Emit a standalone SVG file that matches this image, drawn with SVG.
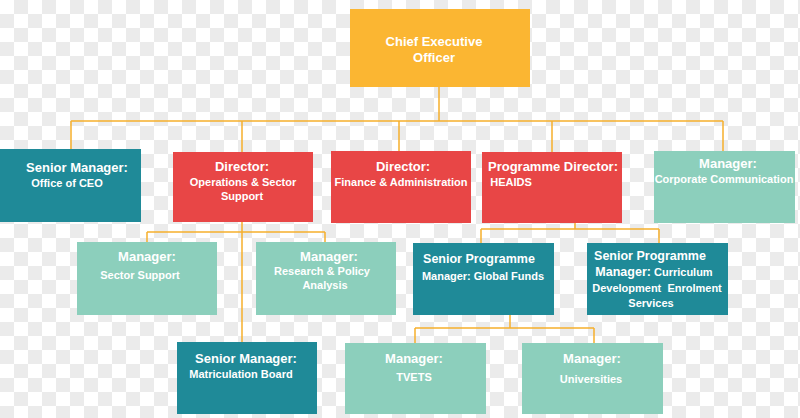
<svg xmlns="http://www.w3.org/2000/svg" width="800" height="418" viewBox="0 0 800 418">
<defs>
<pattern id="checker" x="0" y="0" width="28" height="28" patternUnits="userSpaceOnUse">
<rect x="0" y="0" width="28" height="28" fill="#ffffff"/>
<rect x="14" y="0" width="14" height="14" fill="#ebebeb"/>
<rect x="0" y="14" width="14" height="14" fill="#ebebeb"/>
</pattern>
<style>
.t{font-family:"Liberation Sans",Arial,sans-serif;font-weight:bold;fill:#ffffff;text-anchor:middle}
.h{font-size:13px}
.s{font-size:11px}
.orange{fill:#fbb632}
.red{fill:#e84646}
.teal{fill:#1f8a98}
.mint{fill:#8ccfbc}
.conn{stroke:#f6b02d;stroke-width:1.5;fill:none}
</style>
</defs>
<rect x="0" y="0" width="800" height="418" fill="url(#checker)"/>
<g id="connectors" class="conn">
<path d="M439 87 V121 M71 121 H723 M71 121 V149 M242 121 V152 M399 121 V151 M552 121 V152 M723 121 V151"/>
<path d="M242 222 V342 M147 232 H325 M147 232 V242 M325 232 V242"/>
<path d="M575 223 V229 M481 229 H659 M481 229 V243 M659 229 V243"/>
<path d="M510 315 V328 M415 328 H594 M415 328 V343 M594 328 V343"/>
</g>
<g id="ceo">
<rect class="orange" x="350" y="9" width="180" height="78"/>
<text class="t h" x="434" y="46">Chief Executive</text>
<text class="t h" x="434" y="62">Officer</text>
</g>
<g id="office-ceo">
<rect class="teal" x="0" y="149" width="141" height="73"/>
<text class="t h" x="77" y="172">Senior Manager:</text>
<text class="t s" x="67" y="187">Office of CEO</text>
</g>
<g id="director-ops">
<rect class="red" x="173" y="152" width="140" height="70"/>
<text class="t h" x="242" y="171">Director:</text>
<text class="t s" x="243" y="186">Operations &amp; Sector</text>
<text class="t s" x="242" y="200">Support</text>
</g>
<g id="director-finance">
<rect class="red" x="331" y="151" width="140" height="72"/>
<text class="t h" x="403" y="171">Director:</text>
<text class="t s" x="401" y="186">Finance &amp; Administration</text>
</g>
<g id="programme-director">
<rect class="red" x="482" y="152" width="140" height="71"/>
<text class="t h" x="553" y="171">Programme Director:</text>
<text class="t s" x="511" y="186">HEAIDS</text>
</g>
<g id="corporate-communication">
<rect class="mint" x="654" y="151" width="141" height="72"/>
<text class="t h" x="728" y="168">Manager:</text>
<text class="t s" x="724" y="183">Corporate Communication</text>
</g>
<g id="sector-support">
<rect class="mint" x="77" y="242" width="140" height="73"/>
<text class="t h" x="147" y="261">Manager:</text>
<text class="t s" x="140" y="279">Sector Support</text>
</g>
<g id="research-policy">
<rect class="mint" x="256" y="242" width="140" height="73"/>
<text class="t h" x="329" y="261">Manager:</text>
<text class="t s" x="322" y="275">Research &amp; Policy</text>
<text class="t s" x="325" y="289">Analysis</text>
</g>
<g id="global-funds">
<rect class="teal" x="413" y="243" width="141" height="72"/>
<text class="t h" x="479" y="263" style="font-size:12.5px">Senior Programme</text>
<text class="t s" x="483" y="280">Manager: Global Funds</text>
</g>
<g id="curriculum">
<rect class="teal" x="587" y="243" width="141" height="72"/>
<text class="t h" x="650" y="260" style="font-size:12.5px">Senior Programme</text>
<text class="t s" x="654" y="276"><tspan style="font-size:12.5px">Manager:</tspan> Curriculum</text>
<text class="t s" x="657" y="292" xml:space="preserve">Development  Enrolment</text>
<text class="t s" x="651" y="307">Services</text>
</g>
<g id="matriculation-board">
<rect class="teal" x="177" y="342" width="140" height="72"/>
<text class="t h" x="246" y="363">Senior Manager:</text>
<text class="t s" x="241" y="378">Matriculation Board</text>
</g>
<g id="tvets">
<rect class="mint" x="345" y="343" width="141" height="71"/>
<text class="t h" x="414" y="363">Manager:</text>
<text class="t s" x="414" y="381">TVETS</text>
</g>
<g id="universities">
<rect class="mint" x="522" y="343" width="141" height="71"/>
<text class="t h" x="592" y="363">Manager:</text>
<text class="t s" x="591" y="383">Universities</text>
</g>
</svg>
